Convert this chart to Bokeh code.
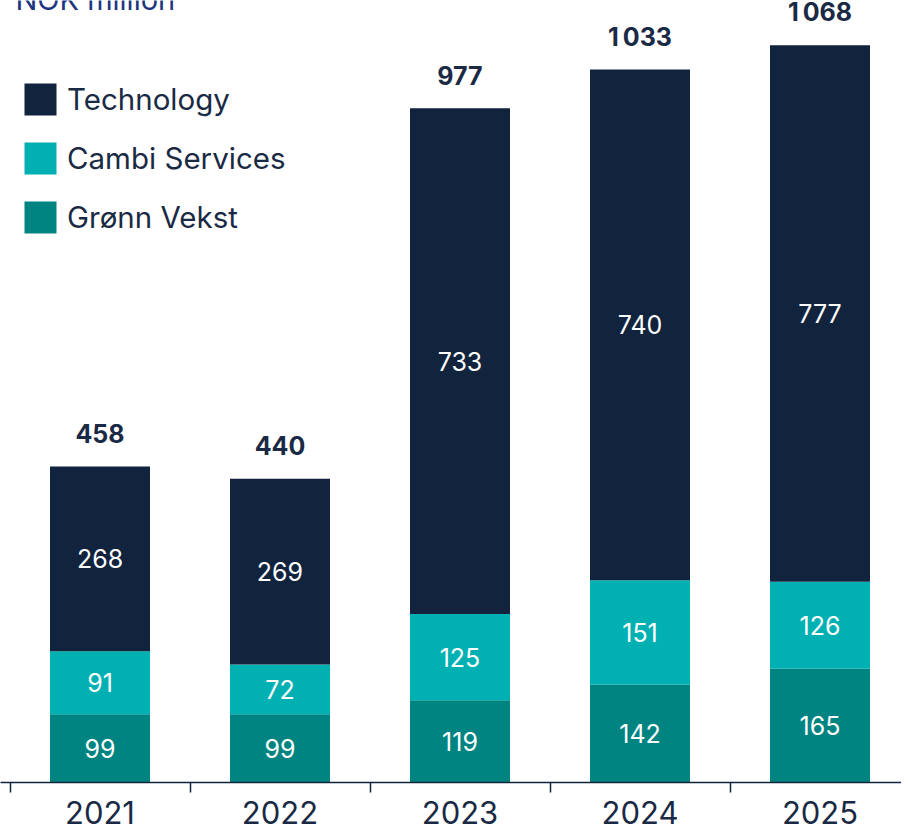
from bokeh.plotting import figure
from bokeh.models import (ColumnDataSource, Range1d, FixedTicker, Legend, LegendItem, Label)
from bokeh.core.properties import value
from bokeh.embed import file_html
from bokeh.resources import INLINE

# ---- data ----
years = ["2021", "2022", "2023", "2024", "2025"]
gronn_vekst = [99, 99, 119, 142, 165]
cambi_services = [91, 72, 125, 151, 126]
technology = [268, 269, 733, 740, 777]
totals = [458, 440, 977, 1033, 1068]
series_names = ["Grønn Vekst", "Cambi Services", "Technology"]
unit_title = "NOK million"

# ---- style ----
FONT = "Inter"
NAVY = "#13233D"
C_TECH = "#12233D"
C_CAMBI = "#00B0B2"
C_GRONN = "#008481"
TEXT_DARK = "#1A2A44"
TITLE_BLUE = "#1D3580"
FRAME_H = 782

xs = [i + 0.5 for i in range(len(years))]
t1 = list(gronn_vekst)
t2 = [a + b for a, b in zip(t1, cambi_services)]
t3 = [a + b for a, b in zip(t2, technology)]

src = ColumnDataSource(dict(
    x=xs, b1=[0] * len(xs), t1=t1, b2=t1, t2=t2, b3=t2, t3=t3,
    m1=[t / 2 for t in t1],
    m2=[(a + b) / 2 for a, b in zip(t1, t2)],
    m3=[(a + b) / 2 for a, b in zip(t2, t3)],
    l1=[str(v) for v in gronn_vekst],
    l2=[str(v) for v in cambi_services],
    l3=[str(v) for v in technology],
    tot=totals,
    totl=[f"{v:,}".replace(",", "\u2009") for v in totals],
))

p = figure(frame_width=901, frame_height=FRAME_H, output_backend="svg", toolbar_location=None,
           x_range=Range1d(-9.5 / 180, 891.5 / 180), y_range=Range1d(0, 1133),
           min_border=0, y_axis_location=None)
p.outline_line_color = None
p.xgrid.visible = False
p.ygrid.visible = False
p.background_fill_color = "white"
p.border_fill_color = "white"

bw = 100 / 180
r1 = p.vbar(x="x", bottom="b1", top="t1", width=bw, source=src, fill_color=C_GRONN, line_color=None)
r2 = p.vbar(x="x", bottom="b2", top="t2", width=bw, source=src, fill_color=C_CAMBI, line_color=None)
r3 = p.vbar(x="x", bottom="b3", top="t3", width=bw, source=src, fill_color=C_TECH, line_color=None)

for ycol, lcol in (("m1", "l1"), ("m2", "l2"), ("m3", "l3")):
    p.text(x="x", y=ycol, text=lcol, source=src, text_align="center", text_baseline="middle",
           text_color="white", text_font=value(FONT), text_font_size="25px")

p.text(x="x", y="tot", text="totl", source=src, y_offset=-33, text_align="center",
       text_baseline="middle", text_color=TEXT_DARK, text_font=value(FONT),
       text_font_size="25px", text_font_style="bold")

# x axis: ticks at category boundaries, labels at centres
ax = p.xaxis[0]
ax.ticker = FixedTicker(ticks=xs, minor_ticks=list(range(len(years) + 1)))
ax.major_label_overrides = {x: y for x, y in zip(xs, years)}
ax.major_tick_line_color = None
ax.major_tick_out = 0
ax.major_tick_in = 0
ax.minor_tick_out = 10
ax.minor_tick_in = 0
ax.minor_tick_line_color = NAVY
ax.minor_tick_line_width = 1.5
ax.axis_line_color = NAVY
ax.axis_line_width = 1.5
ax.major_label_standoff = 8
ax.major_label_text_font = FONT
ax.major_label_text_font_size = "31px"
ax.major_label_text_color = TEXT_DARK

legend = Legend(items=[LegendItem(label=series_names[2], renderers=[r3]),
                       LegendItem(label=series_names[1], renderers=[r2]),
                       LegendItem(label=series_names[0], renderers=[r1])],
                location=(20, 545), orientation="vertical",
                glyph_width=40, glyph_height=40, spacing=19, padding=0, margin=0,
                label_standoff=7, label_text_font=FONT, label_text_font_size="29.5px",
                label_text_color=TEXT_DARK, border_line_color=None,
                background_fill_alpha=0)
p.add_layout(legend)

p.add_layout(Label(x=15, y=FRAME_H + 1, x_units="screen", y_units="screen", text=unit_title,
                   text_font=FONT, text_font_size="29px", text_color=TITLE_BLUE,
                   text_baseline="alphabetic"))

open("out.html", "w").write(file_html(p, INLINE))
